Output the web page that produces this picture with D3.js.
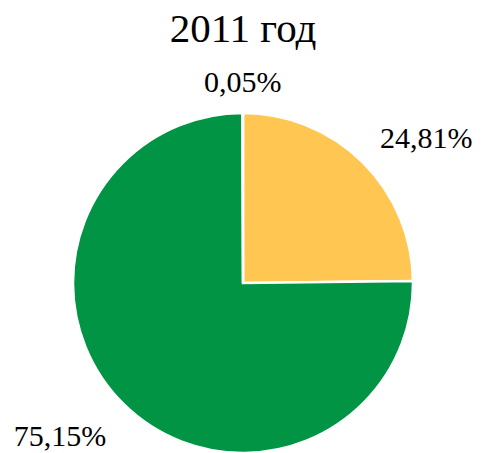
<!DOCTYPE html>
<html><head><meta charset="utf-8">
<script src="https://cdn.jsdelivr.net/npm/d3@7"></script>
<style>html,body{margin:0;padding:0;background:#fff;}</style>
</head><body>
<svg id="chart" width="481" height="453"></svg>
<script>
const title = "2011 год";
const categories = ["A", "B", "C"];
const values = [24.81, 75.15, 0.05];
const labels = ["24,81%", "75,15%", "0,05%"];
const colors = ["#FFC652", "#009444", "#4472C4"];

const cx = 243, cy = 283, R = 170;
const svg = d3.select("#chart");
const fontFamily = '"Liberation Serif"';

svg.append("text").attr("x", 243).attr("y", 42).attr("text-anchor", "middle")
  .style("font-family", fontFamily).style("font-size", "41px").attr("fill", "#000").text(title);

const pie = d3.pie().sort(null).value(d => d)(values);
const arc = d3.arc().innerRadius(0).outerRadius(R);
const g = svg.append("g").attr("transform", `translate(${cx},${cy})`);
g.selectAll("path").data(pie).join("path")
  .attr("d", arc).attr("fill", (d, i) => colors[i])
  .attr("stroke", "#fff").attr("stroke-width", 2.5).attr("stroke-linejoin", "miter");

const D = 195, fs = 30, cap = 20, nudge = 4;
pie.forEach((d, i) => {
  const a = (d.startAngle + d.endAngle) / 2;
  const s = Math.sin(a), c = Math.cos(a);
  const px = s * D, py = -c * D;
  let anchor = "middle";
  if (s > 0.1) anchor = "start"; else if (s < -0.1) anchor = "end";
  const baseline = (c > 0 ? py : py + cap) + nudge;
  g.append("text").attr("x", px).attr("y", baseline).attr("text-anchor", anchor)
    .style("font-family", fontFamily).style("font-size", fs + "px").attr("fill", "#000").text(labels[i]);
});
</script>
</body></html>
